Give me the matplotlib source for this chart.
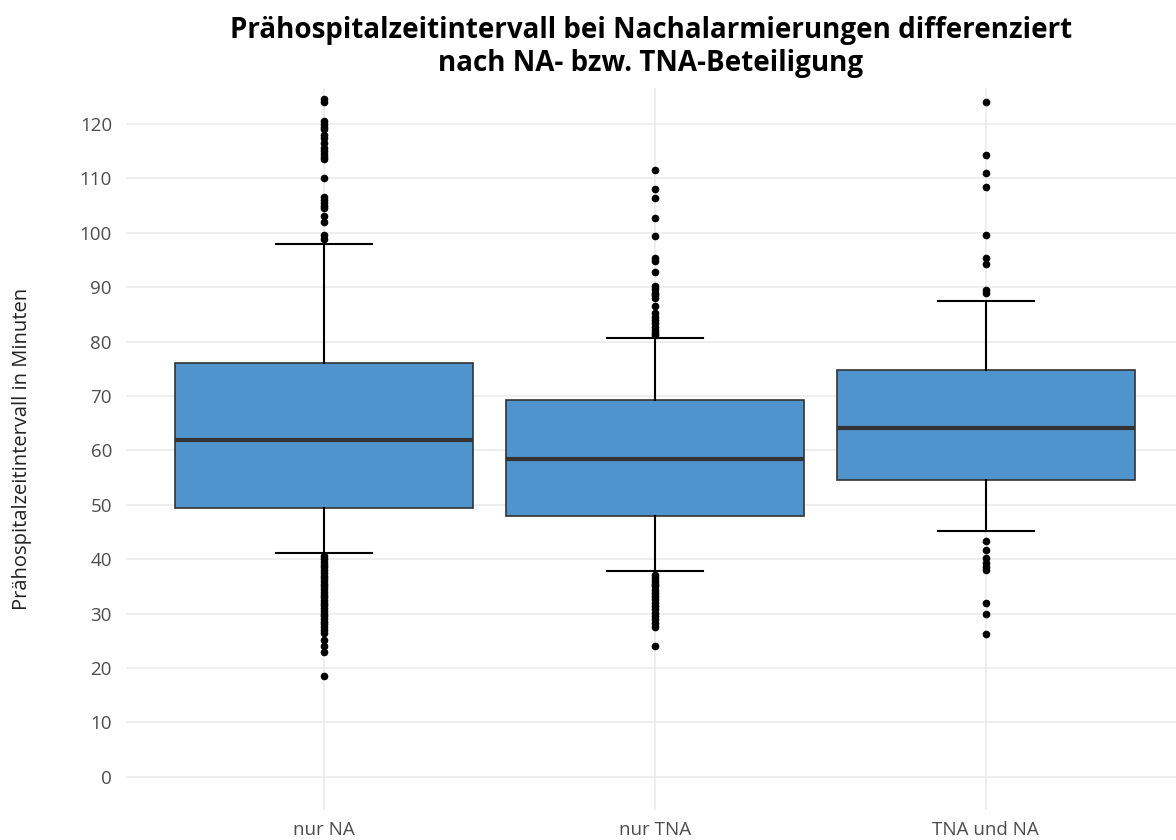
import matplotlib
matplotlib.use("Agg")
import matplotlib.pyplot as plt

# Gruppen
categories = ["nur NA", "nur TNA", "TNA und NA"]

# Kennwerte der Boxplots (Minuten)
q1 = [49.5, 48.0, 54.5]
median = [62.0, 58.5, 64.2]
q3 = [76.0, 69.2, 74.8]
whisk_lo = [41.2, 37.8, 45.2]
whisk_hi = [98.0, 80.6, 87.5]

# Ausreißer je Gruppe
outliers_na = [124.5, 124.0, 120.5, 120.0, 119.5, 119.0, 118.0, 117.5, 116.5, 115.5,
               115.0, 114.5, 114.0, 113.5, 110.0, 106.5, 106.0, 105.5, 105.0, 104.5,
               103.0, 102.0, 99.5, 98.8,
               40.5, 40.0, 39.5, 39.0, 38.5, 38.0, 37.5, 37.0, 36.5, 36.0, 35.5, 35.0,
               34.5, 34.0, 33.5, 33.0, 32.5, 32.0, 31.5, 31.0, 30.5, 30.0, 29.5, 29.0,
               28.5, 28.0, 27.5, 27.0, 26.5, 25.2, 24.1, 23.0, 18.6]
outliers_tna = [111.5, 108.0, 106.4, 102.7, 99.4, 95.3, 94.9, 92.7, 90.3, 89.6, 89.0,
                88.5, 88.0, 86.5, 85.3, 84.6, 84.0, 83.5, 82.7, 82.2, 81.6, 81.2,
                37.1, 36.5, 36.0, 35.5, 35.0, 34.4, 33.8, 33.2, 32.6, 32.0, 31.4,
                30.8, 30.2, 29.6, 29.0, 28.3, 27.6, 24.1]
outliers_both = [124.0, 114.2, 111.0, 108.5, 99.6, 95.3, 94.2, 89.5, 88.9,
                 43.4, 41.7, 40.2, 39.3, 38.6, 38.0, 32.0, 30.0, 26.2]
outliers = [outliers_na, outliers_tna, outliers_both]

stats = []
for i in range(len(categories)):
    stats.append({
        "label": categories[i],
        "q1": q1[i], "med": median[i], "q3": q3[i],
        "whislo": whisk_lo[i], "whishi": whisk_hi[i],
        "fliers": outliers[i],
    })

plt.rcParams["font.family"] = ["Open Sans", "DejaVu Sans"]

fig = plt.figure(figsize=(11.76, 8.4), dpi=100)
ax = fig.add_axes([0.107, 0.0357, 0.893, 0.8595])

pos = [1, 2, 3]
ax.bxp(stats, positions=pos, widths=0.9, patch_artist=True, showcaps=True,
       boxprops=dict(facecolor="#4F94CD", edgecolor="#333333", linewidth=1.2),
       medianprops=dict(color="#333333", linewidth=3),
       whiskerprops=dict(color="black", linewidth=1.5),
       capprops=dict(color="black", linewidth=1.5),
       capwidths=0.29,
       flierprops=dict(marker="o", markerfacecolor="black", markeredgecolor="black",
                       markersize=4.5, linestyle="none"),
       zorder=3)

ax.set_xlim(0.4, 3.575)
ax.set_ylim(-6.1, 126.6)
ax.set_yticks(range(0, 121, 10))
ax.set_xticks(pos)
ax.set_xticklabels(categories)

for s in ax.spines.values():
    s.set_visible(False)
ax.grid(True, color="#EBEBEB", linewidth=1.2)
ax.set_axisbelow(True)
ax.tick_params(length=0, labelsize=13.5, labelcolor="#4D4D4D", pad=10)
ax.tick_params(axis="x", pad=8)

ax.set_ylabel("Prähospitalzeitintervall in Minuten", fontsize=14.5, color="#222222", labelpad=34)
ax.set_title("Prähospitalzeitintervall bei Nachalarmierungen differenziert\nnach NA- bzw. TNA-Beteiligung",
             fontsize=20, fontweight="bold", linespacing=1.2, pad=12)

plt.savefig("out.png", dpi=100)
